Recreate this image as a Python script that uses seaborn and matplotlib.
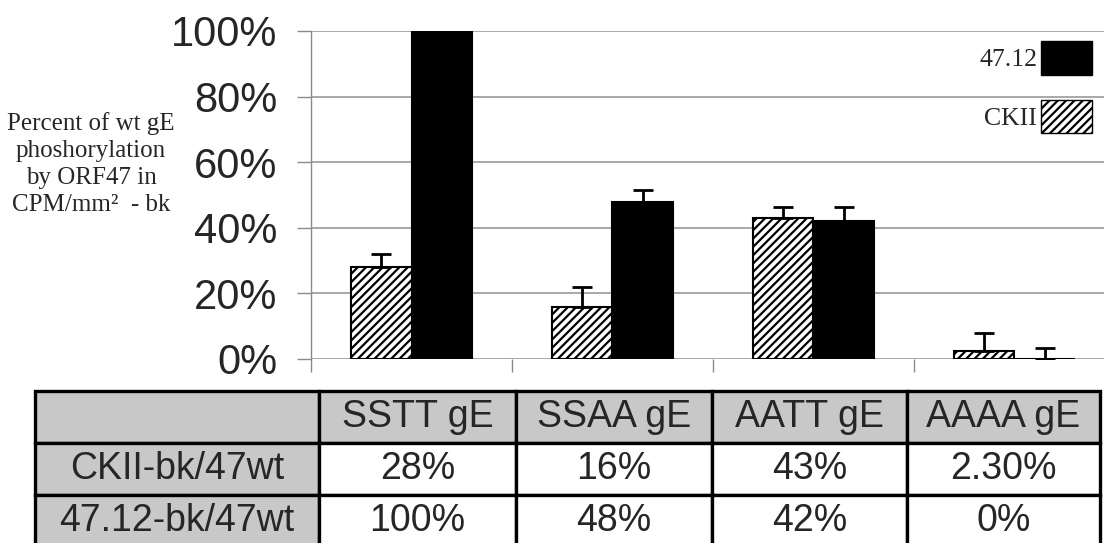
import numpy as np
import pandas as pd
import matplotlib
matplotlib.use('Agg')
import matplotlib.pyplot as plt
import seaborn as sns
from matplotlib.patches import Patch

mutants = ['SSTT gE', 'SSAA gE', 'AATT gE', 'AAAA gE']
ckii = [28, 16, 43, 2.3]
ckii_err = [4.0, 6.0, 3.3, 5.6]
orf4712 = [100, 48, 42, 0]
orf4712_err = [0.0, 3.5, 4.3, 3.4]
row_labels = ['CKII-bk/47wt', '47.12-bk/47wt']
yticks = [0, 20, 40, 60, 80, 100]

sns.set_style('white')
plt.rcParams['font.family'] = ['Liberation Sans', 'DejaVu Sans']
plt.rcParams['hatch.linewidth'] = 1.6

df = pd.DataFrame({
    'mutant': mutants * 2,
    'value': ckii + orf4712,
    'kinase': ['CKII'] * 4 + ['47.12'] * 4,
})

fig = plt.figure(figsize=(11.04, 5.43), dpi=100)
ax = fig.add_axes([311 / 1104, 1 - 359 / 543, 804 / 1104, 328 / 543])

sns.barplot(data=df, x='mutant', y='value', hue='kinase', hue_order=['CKII', '47.12'],
            palette={'CKII': 'white', '47.12': 'black'}, width=0.6, errorbar=None,
            edgecolor='black', linewidth=1.5, legend=False, ax=ax)

bars = [p for p in ax.patches if p.get_width() > 0]
for p in bars[:4]:
    p.set_hatch('////')

# upper error bars only
errs = ckii_err + orf4712_err
vals = ckii + orf4712
xs = [p.get_x() + p.get_width() / 2 for p in bars]
ax.errorbar(xs, vals, yerr=[np.zeros(len(errs)), errs], fmt='none', ecolor='black',
            elinewidth=2, capsize=7, capthick=2, zorder=5)

ax.set_ylim(0, 100)
ax.set_xlim(-0.5, 3.5)
ax.set_yticks(yticks)
ax.set_yticklabels([f'{t}%' for t in yticks], fontsize=30)
ax.set_xticks([-0.5, 0.5, 1.5, 2.5])
ax.set_xticklabels([])
ax.set_xlabel('')
ax.set_ylabel('')
ax.yaxis.grid(True, color='#9a9a9a', linewidth=1.2)
ax.set_axisbelow(True)
ax.tick_params(axis='y', length=10, width=1, color='#8a8a8a', pad=14, left=True)
ax.tick_params(axis='x', length=9.5, width=1, color='#8a8a8a', bottom=True)
for s in ['top', 'right', 'bottom']:
    ax.spines[s].set_visible(False)
ax.spines['left'].set_color('#8a8a8a')
ax.spines['left'].set_linewidth(1)
ax.spines['left'].set_bounds(0, 100)

handles = [Patch(facecolor='black', edgecolor='black', label='47.12'),
           Patch(facecolor='white', edgecolor='black', hatch='////', label='CKII')]
ax.legend(handles=handles, loc='upper right', bbox_to_anchor=(0.972, 0.968),
          frameon=False, markerfirst=False, borderpad=0, borderaxespad=0,
          handlelength=2.0, handleheight=1.6, handletextpad=0.15, labelspacing=1.0,
          prop={'family': 'Liberation Serif', 'size': 18.5})

fig.text(91 / 1104, 1 - 164 / 543,
         'Percent of wt gE\nphoshorylation\nby ORF47 in\nCPM/mm²  - bk',
         ha='center', va='center', fontsize=18, family='Liberation Serif',
         linespacing=1.28)

# data table under the chart
def fmt(v):
    return f'{v:.2f}%' if v % 1 else f'{v:.0f}%'

cell_text = [[''] + mutants,
             [row_labels[0]] + [fmt(v) for v in ckii],
             [row_labels[1]] + [fmt(v) for v in orf4712]]
gray = '#c8c8c8'
cell_colours = [[gray] * 5, [gray] + ['white'] * 4, [gray] + ['white'] * 4]

tax = fig.add_axes([35 / 1104, -4 / 543, 1065 / 1104, 156 / 543])
tax.axis('off')
col_w = np.array([284, 197, 196, 195, 193], dtype=float)
tbl = tax.table(cellText=cell_text, cellColours=cell_colours, cellLoc='center',
                colWidths=list(col_w / col_w.sum()), bbox=[0, 0, 1, 1])
tbl.auto_set_font_size(False)
for (r, c), cell in tbl.get_celld().items():
    cell.set_linewidth(2.4)
    cell.set_edgecolor('black')
    cell.get_text().set_fontsize(27)

fig.savefig('out.png', dpi=100)
